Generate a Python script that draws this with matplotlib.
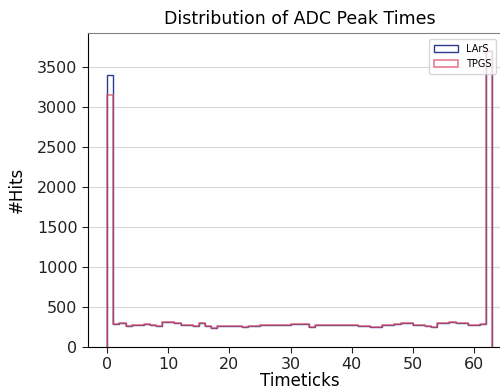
import numpy as np
import matplotlib
matplotlib.use('Agg')
import matplotlib.pyplot as plt

# hits per timetick bin (bins of width 1 from 0 to 63)
bin_edges = np.arange(0, 64)
flat_counts = [280, 295, 262, 276, 276, 278, 275, 260, 305, 308,
               300, 270, 268, 258, 290, 262, 235, 258, 258, 260,
               258, 242, 258, 262, 275, 276, 276, 268, 268, 280,
               284, 284, 242, 276, 268, 268, 268, 268, 276, 276,
               259, 259, 250, 250, 268, 268, 280, 300, 295, 268,
               268, 262, 250, 295, 300, 305, 300, 295, 276, 268,
               284]
lars_counts = [3400] + flat_counts + [3700]
tpgs_counts = [3150] + flat_counts + [3700]

fig = plt.figure(figsize=(5.0, 3.92), dpi=100)
ax = fig.add_axes([0.176, 0.1156, 0.847, 0.801])

centers = bin_edges[:-1] + 0.5
ax.hist(centers, bins=bin_edges, weights=lars_counts, histtype='step',
        color='#2b3a8f', linewidth=1.0, label='LArS')
ax.hist(centers, bins=bin_edges, weights=tpgs_counts, histtype='step',
        color='#e0506a', linewidth=1.1, alpha=0.8, label='TPGS')

ax.set_xlim(-3.15, 66.15)
ax.set_ylim(0, 3925)
ax.set_xticks([0, 10, 20, 30, 40, 50, 60])
ax.set_yticks(np.arange(0, 3501, 500))
ax.yaxis.grid(True, color='#d8d8d8', linewidth=0.8)
ax.set_axisbelow(True)

ax.spines['top'].set_color('#808080')
ax.tick_params(labelsize=11.5, length=4, colors='#222222')
ax.set_title('Distribution of ADC Peak Times', fontsize=12.5, pad=6)
ax.set_xlabel('Timeticks', fontsize=12, labelpad=0)
ax.set_ylabel('#Hits', fontsize=12, labelpad=8)

ax.legend(loc='upper left', bbox_to_anchor=(0.80, 0.985), fontsize=7,
          handlelength=2.5, borderpad=0.5, labelspacing=0.5,
          borderaxespad=0.2)

fig.savefig('out.png', dpi=100)
